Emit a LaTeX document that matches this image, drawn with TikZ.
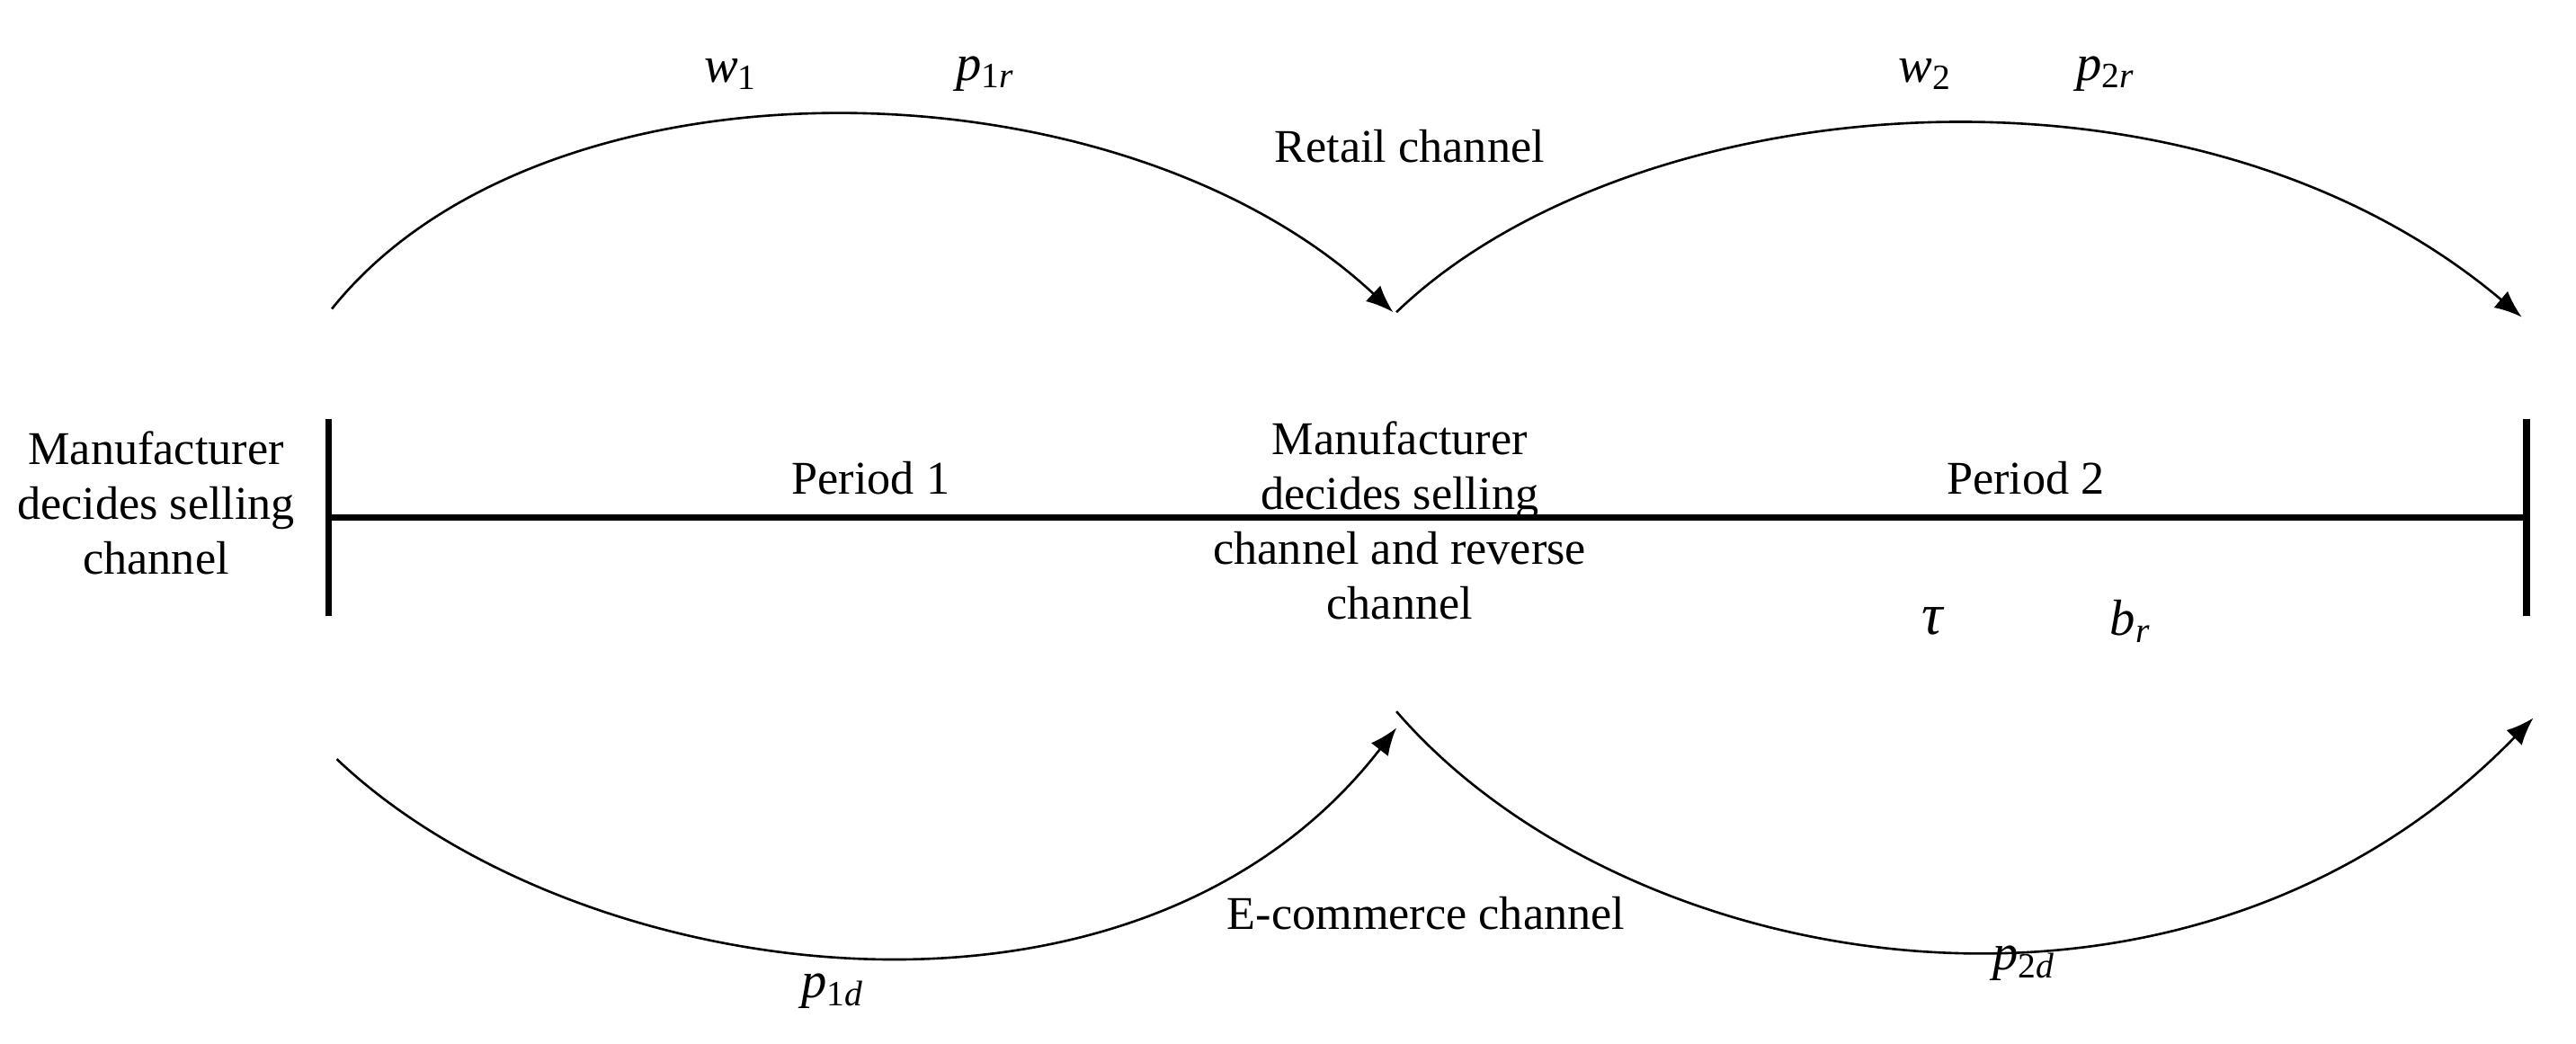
\documentclass[tikz,border=0pt]{standalone}
\usepackage{fontspec}
\setmainfont{Liberation Serif}
\usetikzlibrary{arrows.meta}
\newcommand{\vv}[2]{\textit{#1}\textsubscript{#2}}
\begin{document}
\begin{tikzpicture}[x=0.42pt,y=-0.42pt,
  arc/.style={line width=0.6pt,-{Latex[length=7pt,width=5.5pt]}},
  bar/.style={line width=1.8pt},
  lbl/.style={font=\fontsize{12}{14}\selectfont,align=center},
  sym/.style={font=\fontsize{13}{15}\selectfont}]
\useasboundingbox (0,0) rectangle (1568,635);
\coordinate (L) at (200,315); \coordinate (R) at (1538,315);
\coordinate (Lt) at (200,255); \coordinate (Lb) at (200,375);
\coordinate (Rt) at (1538,255); \coordinate (Rb) at (1538,375);
\draw[bar] (L) -- (R);
\draw[bar] (Lt) -- (Lb);
\draw[bar] (Rt) -- (Rb);
\node[lbl] (left) at (95,306) {Manufacturer\\decides selling\\channel};
\node[lbl] (mid) at (852,317) {Manufacturer\\decides selling\\channel and reverse\\channel};
\node[lbl] (p1) at (530,291) {Period 1};
\node[lbl] (p2) at (1233,291) {Period 2};
\node[lbl] (rc) at (858,89) {Retail channel};
\node[lbl] (ec) at (868,556) {E-commerce channel};
\coordinate (a1) at (202,188); \coordinate (a2) at (848,190);
\coordinate (b1) at (850,190); \coordinate (b2) at (1535,193);
\coordinate (c1) at (205,462); \coordinate (c2) at (850,443);
\coordinate (d1) at (850,433); \coordinate (d2) at (1542,437);
\draw[arc] (a1) .. controls (330,28) and (680,33) .. (a2);
\draw[arc] (b1) .. controls (990,55) and (1330,20) .. (b2);
\draw[arc] (c1) .. controls (350,600) and (690,650) .. (c2);
\draw[arc] (d1) .. controls (990,595) and (1330,655) .. (d2);
\node[sym] (w1) at (445,45) {\vv{w}{1}};
\node[sym] (p1r) at (600,45) {\vv{p}{1\textit{r}}};
\node[sym] (w2) at (1172,45) {\vv{w}{2}};
\node[sym] (p2r) at (1282,45) {\vv{p}{2\textit{r}}};
\node[sym,font=\fontsize{15}{17}\selectfont] (tau) at (1177,378) {\textit{τ}};
\node[sym] (br) at (1297,378) {\vv{b}{\textit{r}}};
\node[sym] (p1d) at (507,603) {\vv{p}{1\textit{d}}};
\node[sym] (p2d) at (1232,586) {\vv{p}{2\textit{d}}};
\end{tikzpicture}
\end{document}
